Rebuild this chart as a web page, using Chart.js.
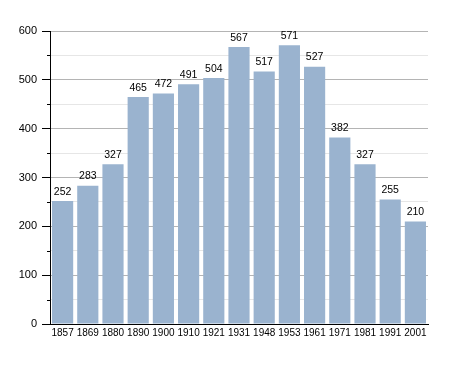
<!DOCTYPE html>
<html lang="en">
<head>
  <meta charset="UTF-8" />
  <title>Population</title>
  <script src="https://cdn.jsdelivr.net/npm/chart.js"></script>
  <style>
    body { margin: 0; background: #fff; }
    #wrap { width: 455px; height: 373px; }
  </style>
</head>
<body>
  <div id="wrap"><canvas id="popChart" width="455" height="373"></canvas></div>

  <script>
    const years = ["1857", "1869", "1880", "1890", "1900", "1910", "1921", "1931", "1948", "1953", "1961", "1971", "1981", "1991", "2001"];
    const population = [252, 283, 327, 465, 472, 491, 504, 567, 517, 571, 527, 382, 327, 255, 210];
    const yMax = 600;

    // value labels above each bar
    const barLabels = {
      id: 'barLabels',
      afterDatasetsDraw(chart) {
        const ctx = chart.ctx;
        const meta = chart.getDatasetMeta(0);
        ctx.save();
        ctx.font = '10.5px "Liberation Sans", Arial, sans-serif';
        ctx.fillStyle = '#000';
        ctx.textAlign = 'center';
        ctx.textBaseline = 'bottom';
        meta.data.forEach((bar, i) => {
          ctx.fillText(population[i], bar.x, bar.y - 4);
        });
        ctx.restore();
      }
    };

    // short minor ticks on the y axis
    const minorTicks = {
      id: 'minorTicks',
      afterDraw(chart) {
        const ctx = chart.ctx;
        const y = chart.scales.y;
        ctx.save();
        ctx.strokeStyle = '#000';
        ctx.lineWidth = 1;
        y.ticks.forEach(t => {
          if (t.value % 100 !== 0) {
            const py = Math.round(y.getPixelForValue(t.value)) + 0.5;
            ctx.beginPath();
            ctx.moveTo(y.right - 3, py);
            ctx.lineTo(y.right, py);
            ctx.stroke();
          }
        });
        ctx.restore();
      }
    };

    const ctx = document.getElementById('popChart').getContext('2d');
    new Chart(ctx, {
      type: 'bar',
      data: {
        labels: years,
        datasets: [{
          data: population,
          backgroundColor: '#9ab3cf',
          borderWidth: 0,
          barPercentage: 0.84,
          categoryPercentage: 1
        }]
      },
      options: {
        responsive: false,
        animation: false,
        layout: { padding: { left: 0, top: 31, right: 27, bottom: 29 } },
        plugins: { legend: { display: false }, tooltip: { enabled: false } },
        scales: {
          x: {
            grid: { display: false, drawTicks: false },
            border: { display: true, color: '#000', width: 1 },
            ticks: {
              color: '#000',
              padding: 3,
              maxRotation: 0,
              autoSkip: false,
              font: { family: '"Liberation Sans", Arial, sans-serif', size: 10 }
            },
            afterFit(scale) { scale.height = 20; }
          },
          y: {
            min: 0,
            max: yMax,
            ticks: {
              stepSize: 50,
              color: '#000',
              padding: 5,
              font: { family: '"Liberation Sans", Arial, sans-serif', size: 11 },
              callback: v => (v % 100 === 0 ? v : '')
            },
            grid: {
              tickLength: 8,
              color: c => (c.tick && c.tick.value % 100 === 0 ? '#b4b4b4' : '#e6e6e6'),
              tickColor: c => (c.tick && c.tick.value % 100 === 0 ? '#000' : 'rgba(0,0,0,0)')
            },
            border: { display: true, color: '#000', width: 1 },
            afterFit(scale) { scale.width = 50; }
          }
        }
      },
      plugins: [barLabels, minorTicks]
    });
  </script>
</body>
</html>
